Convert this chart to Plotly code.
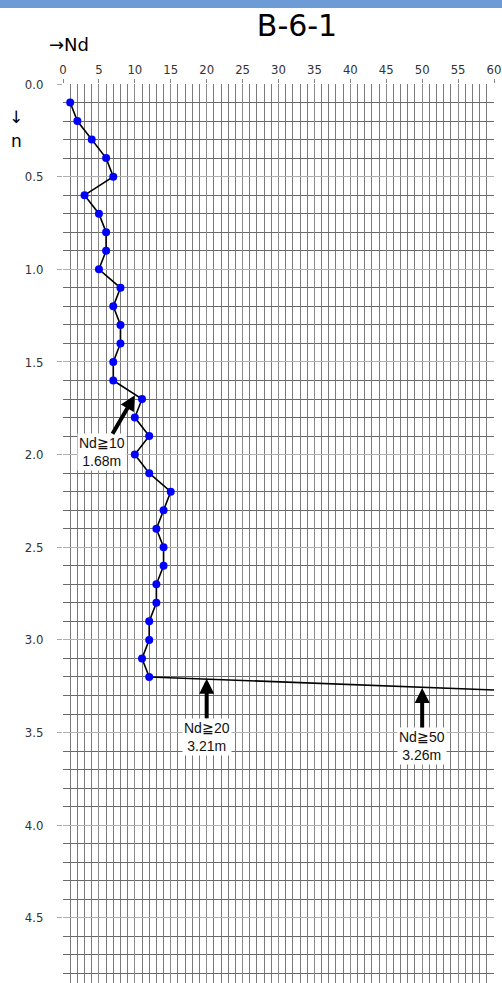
import plotly.graph_objs as go

# SPT-like sounding B-6-1: depth (m) vs Nd
depth = [0.1, 0.2, 0.3, 0.4, 0.5, 0.6, 0.7, 0.8, 0.9, 1.0,
         1.1, 1.2, 1.3, 1.4, 1.5, 1.6, 1.7, 1.8, 1.9, 2.0,
         2.1, 2.2, 2.3, 2.4, 2.5, 2.6, 2.7, 2.8, 2.9, 3.0,
         3.1, 3.2]
nd = [1, 2, 4, 6, 7, 3, 5, 6, 6, 5,
      8, 7, 8, 8, 7, 7, 11, 10, 12, 10,
      12, 15, 14, 13, 14, 14, 13, 13, 12, 12,
      11, 12]

# refusal line beyond last reading (runs off the right edge)
ext_nd = [12, 60]
ext_depth = [3.20, 3.27]

# threshold callouts
mark_nd = [10, 20, 50]
mark_depth = [1.68, 3.21, 3.26]
mark_text = ["Nd≧10<br>1.68m", "Nd≧20<br>3.21m", "Nd≧50<br>3.26m"]
mark_ax = [-33, 0, 0]
mark_ay = [57, 58, 58]

x_ticks = list(range(0, 61, 5))
y_ticks = [0.0, 0.5, 1.0, 1.5, 2.0, 2.5, 3.0, 3.5, 4.0, 4.5]

narrow = "DejaVu Sans Condensed, Liberation Sans Narrow, Arial Narrow, Liberation Sans"

fig = go.Figure()

fig.add_trace(
    go.Scatter(
        x=ext_nd, y=ext_depth, mode="lines",
        line=dict(color="black", width=1.6),
        hoverinfo="skip", showlegend=False,
    )
)
fig.add_trace(
    go.Scatter(
        x=nd, y=depth, mode="lines+markers",
        line=dict(color="black", width=1.6),
        marker=dict(color="#0000ff", size=8),
        showlegend=False,
    )
)

for x, y, t, ax, ay in zip(mark_nd, mark_depth, mark_text, mark_ax, mark_ay):
    fig.add_annotation(
        x=x, y=y, text=t, showarrow=True,
        ax=ax, ay=ay, arrowhead=2, arrowsize=0.75, arrowwidth=4,
        arrowcolor="black", bgcolor="white", borderpad=1,
        font=dict(family="Liberation Sans, Arial", size=14, color="#111"),
    )

# axis captions
fig.add_annotation(
    x=6 / 431, y=1 + 39 / 899, xref="paper", yref="paper",
    text="→Nd", showarrow=False, xanchor="center", yanchor="middle",
    font=dict(family="DejaVu Sans", size=18, color="black"),
)
fig.add_annotation(
    x=-0.109, y=1 - 33 / 899, xref="paper", yref="paper",
    text="↓", showarrow=False, xanchor="center", yanchor="middle",
    font=dict(family="DejaVu Sans", size=17, color="black"),
)
fig.add_annotation(
    x=-0.109, y=1 - 57 / 899, xref="paper", yref="paper",
    text="n", showarrow=False, xanchor="center", yanchor="middle",
    font=dict(family="DejaVu Sans", size=17, color="black"),
)

# blue header band
fig.add_shape(
    type="rect", xref="paper", yref="paper",
    x0=-63 / 431, x1=1 + 8 / 431, y0=1 + 76 / 899, y1=1 + 84 / 899,
    fillcolor="#6d9bd5", line=dict(width=0), layer="above",
)

fig.update_layout(
    width=502,
    height=983,
    margin=dict(l=63, r=8, t=84, b=0, autoexpand=False),
    paper_bgcolor="white",
    plot_bgcolor="white",
    title=dict(
        text="B-6-1", x=297 / 502, xanchor="center",
        y=1 - 25 / 983, yanchor="middle",
        font=dict(family="DejaVu Sans", size=30, color="black"),
    ),
    xaxis=dict(
        side="top", range=[0, 60], tickvals=x_ticks,
        ticks="outside", ticklen=4, tickcolor="#888",
        ticklabelstandoff=0, automargin=False,
        tickfont=dict(family=narrow, size=13, color="#333"),
        showgrid=True, gridcolor="#8a8a8a", gridwidth=1,
        minor=dict(dtick=1, showgrid=True, gridcolor="#7a7a7a", gridwidth=1),
        zeroline=False, showline=False, fixedrange=True,
    ),
    yaxis=dict(
        range=[899 / 185.3, 0], tickvals=y_ticks,
        ticktext=[f"{v:.1f}" for v in y_ticks],
        ticks="outside", ticklen=5, tickcolor="#aaa",
        ticklabelstandoff=11, automargin=False,
        tickfont=dict(family=narrow, size=13, color="#333"),
        showgrid=True, gridcolor="#b0b0b0", gridwidth=1,
        minor=dict(dtick=0.1, showgrid=True, gridcolor="#6a6a6a", gridwidth=1),
        zeroline=False, showline=False, fixedrange=True,
    ),
)

# drop the page's default body margin so the figure sits at the window corner
fig.write_html(
    "out.html",
    config={"displayModeBar": False},
    post_script="document.body.style.margin='0';document.body.style.overflow='hidden';",
)
